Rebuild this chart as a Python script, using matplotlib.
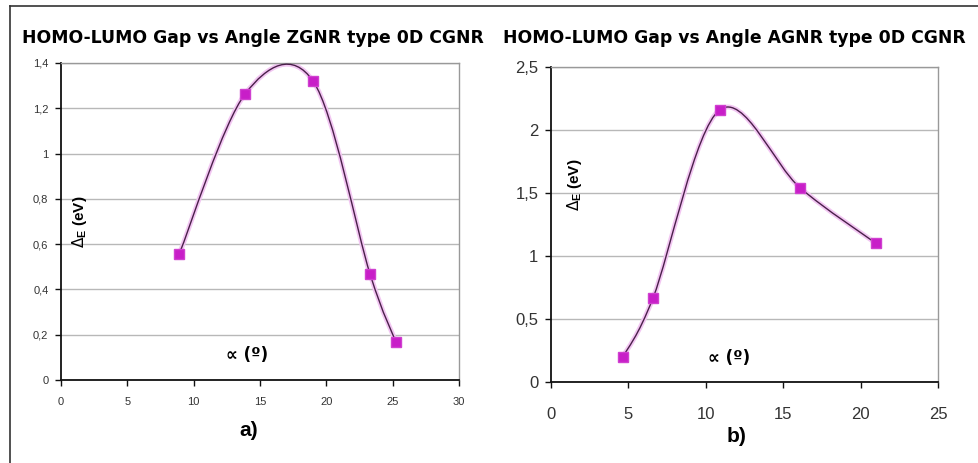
import matplotlib
matplotlib.use("Agg")
import matplotlib.pyplot as plt
from matplotlib.path import Path
from matplotlib.patches import PathPatch
from matplotlib.lines import Line2D

plt.rcParams['font.family'] = ['Liberation Sans', 'DejaVu Sans']

# Data
zgnr_angle = [8.9, 13.9, 19.0, 23.3, 25.25]
zgnr_gap = [0.555, 1.265, 1.32, 0.467, 0.167]
agnr_angle = [4.65, 6.6, 10.9, 16.1, 21.0]
agnr_gap = [0.20, 0.67, 2.16, 1.54, 1.10]

title_a = "HOMO-LUMO Gap vs Angle ZGNR type 0D CGNR"
title_b = "HOMO-LUMO Gap vs Angle AGNR type 0D CGNR"
ylabel = r"$\Delta_{\mathregular{E}}$ (eV)"
xlabel = "\u221d (\u00ba)"

left_xticks = [0, 5, 10, 15, 20, 25, 30]
left_yticks = [0, 0.2, 0.4, 0.6, 0.8, 1.0, 1.2, 1.4]
left_ylabels = ["0", "0,2", "0,4", "0,6", "0,8", "1", "1,2", "1,4"]
right_xticks = [0, 5, 10, 15, 20, 25]
right_yticks = [0, 0.5, 1.0, 1.5, 2.0, 2.5]
right_ylabels = ["0", "0,5", "1", "1,5", "2", "2,5"]


def smooth_path(xs, ys):
    """Excel-style smoothed line: Catmull-Rom Bezier segments."""
    pts = list(zip(xs, ys))
    n = len(pts)
    verts = [pts[0]]
    codes = [Path.MOVETO]
    for i in range(n - 1):
        p0 = pts[i - 1] if i > 0 else pts[i]
        p1 = pts[i]
        p2 = pts[i + 1]
        p3 = pts[i + 2] if i + 2 < n else pts[i + 1]
        c1 = (p1[0] + (p2[0] - p0[0]) / 6, p1[1] + (p2[1] - p0[1]) / 6)
        c2 = (p2[0] - (p3[0] - p1[0]) / 6, p2[1] - (p3[1] - p1[1]) / 6)
        verts += [c1, c2, p2]
        codes += [Path.CURVE4] * 3
    return Path(verts, codes)


W, H = 979, 463
fig = plt.figure(figsize=(W / 100, H / 100), dpi=100)
fig.patch.set_facecolor('white')

# outer frame (top and left)
fig.add_artist(Line2D([10 / W, 1], [1 - 6 / H, 1 - 6 / H], color='#333333', lw=1.2))
fig.add_artist(Line2D([10 / W, 10 / W], [0, 1 - 6 / H], color='#333333', lw=1.2))


def make_axes(rect, xs, ys, xticks, yticks, ylabels, ylim, fs, xpad):
    ax = fig.add_axes(rect)
    ax.set_xlim(xticks[0], xticks[-1])
    ax.set_ylim(*ylim)
    ax.set_xticks(xticks)
    ax.set_xticklabels([str(t) for t in xticks], fontsize=fs, color='#333333')
    ax.set_yticks(yticks)
    ax.set_yticklabels(ylabels, fontsize=fs, color='#333333')
    ax.grid(axis='y', color='#b8b8b8', lw=1.0)
    ax.set_axisbelow(True)
    for s in ['top', 'right']:
        ax.spines[s].set_color('#999999')
        ax.spines[s].set_linewidth(1.0)
    for s in ['left', 'bottom']:
        ax.spines[s].set_color('#111111')
        ax.spines[s].set_linewidth(1.3)
    ax.tick_params(axis='both', direction='out', length=4, width=1, color='#111111', pad=5)
    ax.tick_params(axis='x', pad=xpad)
    path = smooth_path(xs, ys)
    ax.add_patch(PathPatch(path, facecolor='none', edgecolor='#f2c6f2', lw=3.5, zorder=2))
    ax.add_patch(PathPatch(path, facecolor='none', edgecolor='#4a1f4a', lw=1.0, zorder=3))
    ax.plot(xs, ys, linestyle='none', marker='s', markersize=7.5,
            markerfacecolor='#c81ec8', markeredgecolor='#d040d0', zorder=4)
    return ax


ax1 = make_axes([61 / W, 1 - 380 / H, 398 / W, 317 / H], zgnr_angle, zgnr_gap,
                left_xticks, left_yticks, left_ylabels, (0, 1.4), 8, 8)
ax2 = make_axes([551 / W, 1 - 382 / H, 387 / W, 315 / H], agnr_angle, agnr_gap,
                right_xticks, right_yticks, right_ylabels, (0, 2.5), 12, 14)

# titles, width-fitted to ~460 px
renderer = fig.canvas.get_renderer()
for x0, txt in [(22, title_a), (503, title_b)]:
    t = fig.text(x0 / W, 1 - 38 / H, txt, fontsize=12, fontweight='bold', ha='left',
                 va='center', family=['DejaVu Sans'])
    w = t.get_window_extent(renderer).width
    t.set_fontsize(12 * 461 / w)

# y labels inside plots
fig.text(80 / W, 1 - 222 / H, ylabel, rotation=90, fontsize=11, fontweight='bold',
         ha='center', va='center')
fig.text(575 / W, 1 - 185 / H, ylabel, rotation=90, fontsize=11, fontweight='bold',
         ha='center', va='center')
# x labels inside plots
fig.text(247 / W, 1 - 355 / H, xlabel, fontsize=12, fontweight='bold', ha='center', va='center',
         family=['DejaVu Sans'])
fig.text(729 / W, 1 - 358 / H, xlabel, fontsize=12, fontweight='bold', ha='center', va='center',
         family=['DejaVu Sans'])

fig.text(249 / W, 1 - 430 / H, "a)", fontsize=15, fontweight='bold', ha='center', va='center')
fig.text(737 / W, 1 - 437 / H, "b)", fontsize=15, fontweight='bold', ha='center', va='center')

fig.savefig('out.png', dpi=100, facecolor='white')
